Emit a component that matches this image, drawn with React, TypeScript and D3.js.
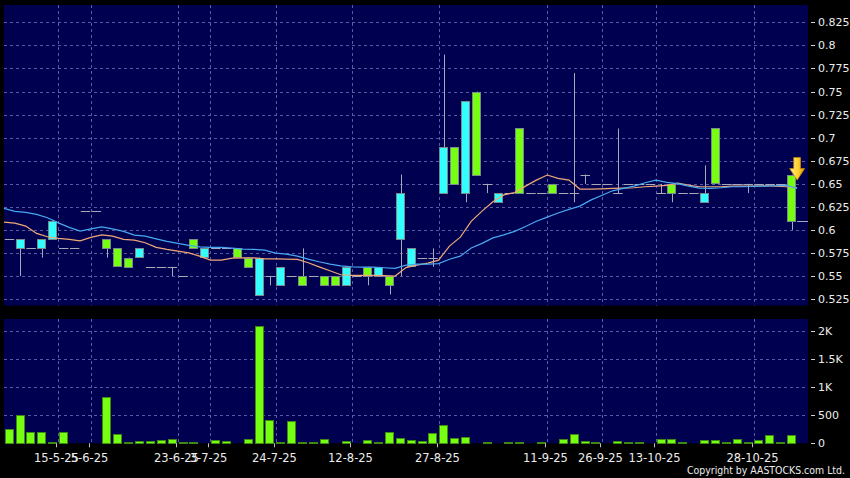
import React, { useEffect, useRef } from 'react';
import * as d3 from 'd3';

// daily candles, one per traded day (slot 73 is the empty right margin)
const open = [0.59, 0.58, 0.58, 0.58, 0.59, 0.58, 0.58, 0.62, 0.62, 0.59, 0.58, 0.57, 0.57, 0.56, 0.56, 0.56, 0.55, 0.59, 0.57, 0.58,
  0.58, 0.58, 0.57, 0.53, 0.55, 0.54, 0.55, 0.55, 0.55, 0.55, 0.55, 0.54, 0.55, 0.56, 0.55, 0.55, 0.59, 0.56, 0.57, 0.57,
  0.64, 0.69, 0.64, 0.75, 0.65, 0.63, 0.64, 0.71, 0.64, 0.64, 0.65, 0.64, 0.64, 0.66, 0.65, 0.65, 0.64, 0.65, 0.65, 0.65,
  0.64, 0.65, 0.64, 0.64, 0.63, 0.71, 0.65, 0.65, 0.65, 0.65, 0.65, 0.65, 0.66];
const high = [0.59, 0.59, 0.58, 0.59, 0.61, 0.58, 0.58, 0.62, 0.62, 0.59, 0.58, 0.57, 0.58, 0.56, 0.56, 0.56, 0.55, 0.59, 0.58, 0.58,
  0.58, 0.58, 0.57, 0.57, 0.55, 0.56, 0.55, 0.58, 0.55, 0.55, 0.55, 0.56, 0.55, 0.56, 0.56, 0.55, 0.66, 0.58, 0.57, 0.58,
  0.79, 0.69, 0.74, 0.75, 0.65, 0.64, 0.64, 0.71, 0.64, 0.64, 0.65, 0.64, 0.77, 0.66, 0.65, 0.65, 0.71, 0.65, 0.65, 0.65,
  0.65, 0.65, 0.64, 0.64, 0.67, 0.71, 0.65, 0.65, 0.65, 0.65, 0.65, 0.65, 0.66];
const low = [0.59, 0.55, 0.58, 0.57, 0.59, 0.58, 0.58, 0.62, 0.62, 0.57, 0.56, 0.56, 0.57, 0.56, 0.56, 0.55, 0.55, 0.58, 0.57, 0.58,
  0.58, 0.57, 0.56, 0.53, 0.54, 0.54, 0.55, 0.54, 0.55, 0.54, 0.54, 0.54, 0.55, 0.54, 0.55, 0.53, 0.55, 0.56, 0.57, 0.56,
  0.64, 0.65, 0.63, 0.66, 0.64, 0.63, 0.64, 0.64, 0.64, 0.64, 0.64, 0.64, 0.63, 0.65, 0.65, 0.65, 0.64, 0.65, 0.65, 0.65,
  0.64, 0.63, 0.64, 0.64, 0.63, 0.65, 0.65, 0.65, 0.64, 0.65, 0.65, 0.65, 0.60];
const close = [0.59, 0.59, 0.58, 0.59, 0.61, 0.58, 0.58, 0.62, 0.62, 0.58, 0.56, 0.56, 0.58, 0.56, 0.56, 0.56, 0.55, 0.58, 0.58, 0.58,
  0.58, 0.57, 0.56, 0.57, 0.55, 0.56, 0.55, 0.54, 0.55, 0.54, 0.54, 0.56, 0.55, 0.55, 0.56, 0.54, 0.64, 0.58, 0.57, 0.57,
  0.69, 0.65, 0.74, 0.66, 0.65, 0.64, 0.64, 0.64, 0.64, 0.64, 0.64, 0.64, 0.64, 0.66, 0.65, 0.65, 0.64, 0.65, 0.65, 0.65,
  0.64, 0.64, 0.64, 0.64, 0.64, 0.65, 0.65, 0.65, 0.65, 0.65, 0.65, 0.65, 0.61];
const volume = [250, 510, 195, 200, 15, 200, 4, 4, 4, 820, 160, 25, 40, 40, 60, 70, 25, 18, 4, 65,
  40, 4, 75, 2100, 410, 25, 400, 18, 18, 75, 4, 45, 4, 60, 25, 195, 90, 60, 40, 185,
  320, 95, 120, 12, 24, 4, 18, 18, 4, 18, 12, 70, 170, 36, 24, 4, 36, 24, 24, 4,
  70, 77, 18, 4, 60, 60, 24, 70, 24, 60, 150, 24, 145];

// moving averages, read at each slot boundary (74 points)
const maShort = [0.6085, 0.6074, 0.6042, 0.5962, 0.5926, 0.5908, 0.5897, 0.5882, 0.5919, 0.5947, 0.5933, 0.5897, 0.589, 0.5861, 0.5811,
  0.5789, 0.5771, 0.5752, 0.5716, 0.5673, 0.5673, 0.5695, 0.5698, 0.5698, 0.5687, 0.5687, 0.5684, 0.5681, 0.5644, 0.56,
  0.5557, 0.5514, 0.5507, 0.5507, 0.5507, 0.5505, 0.55, 0.5592, 0.5619, 0.5641, 0.5673, 0.5825, 0.5922, 0.6093, 0.6204,
  0.6305, 0.638, 0.6405, 0.6475, 0.654, 0.6595, 0.6559, 0.654, 0.6443, 0.6443, 0.6446, 0.645, 0.6454, 0.6457, 0.6468,
  0.6475, 0.6483, 0.6508, 0.6486, 0.6468, 0.6468, 0.6468, 0.6475, 0.6475, 0.6475, 0.6479, 0.6475, 0.6468, 0.6457];
const maLong = [0.6234, 0.6201, 0.619, 0.6168, 0.6132, 0.6077, 0.6028, 0.5987, 0.6012, 0.6034, 0.6012, 0.5984, 0.5944, 0.5933, 0.5904,
  0.5876, 0.5854, 0.5832, 0.5817, 0.5811, 0.5811, 0.5803, 0.5792, 0.5789, 0.5781, 0.5749, 0.5738, 0.5716, 0.5684, 0.5655,
  0.563, 0.5611, 0.56, 0.5597, 0.5597, 0.559, 0.5583, 0.5619, 0.563, 0.563, 0.5635, 0.5682, 0.5716, 0.5805, 0.5854,
  0.5914, 0.5947, 0.5984, 0.6038, 0.6094, 0.6139, 0.6183, 0.6223, 0.6258, 0.6323, 0.6374, 0.6424, 0.645, 0.6475, 0.6511,
  0.654, 0.6515, 0.6502, 0.6475, 0.6454, 0.645, 0.6457, 0.6468, 0.6468, 0.6472, 0.6475, 0.6479, 0.6483, 0.645];

const tickSlots = [5, 8, 16, 19, 25, 32, 40, 50, 55, 60, 69];
const tickLabels = ['15-5-25', '5-6-25', '23-6-25', '3-7-25', '24-7-25', '12-8-25', '27-8-25', '11-9-25', '26-9-25', '13-10-25', '28-10-25'];
const priceTicks = [0.525, 0.55, 0.575, 0.6, 0.625, 0.65, 0.675, 0.7, 0.725, 0.75, 0.775, 0.8, 0.825];
const volumeTicks = [0, 500, 1000, 1500, 2000];
const volumeLabels = ['0', '500', '1K', '1.5K', '2K'];

const UP = '#33ffff';
const DOWN = '#77ff11';
const PANEL = '#000050';
const GRID = '#5a5aa0';
const WICK = '#a8a8b8';
const FONT = 'DejaVu Sans, sans-serif';

const App = () => {
  const ref = useRef<SVGSVGElement | null>(null);

  useEffect(() => {
    const W = 850, H = 478;
    const left = 4, right = 808;
    const pTop = 5, pBottom = 305.5;
    const vTop = 319, vBottom = 443.3;

    const svg = d3.select(ref.current);
    svg.selectAll('*').remove();

    svg.append('rect').attr('width', W).attr('height', H).attr('fill', '#000');

    const slots = d3.range(open.length + 1);
    const x = d3.scaleBand<number>().domain(slots).range([left, right]).paddingInner(0.13).paddingOuter(0.065);
    const step = x.step();
    const xs = (i: number) => left + i * step; // slot boundary
    const xc = (i: number) => x(i)! + x.bandwidth() / 2;

    const y = d3.scaleLinear().domain([0.5181, 0.8438]).range([pBottom, pTop]);
    const yv = d3.scaleLinear().domain([0, 2220]).range([vBottom, vTop]);

    // panels
    svg.append('rect').attr('x', left).attr('y', pTop).attr('width', right - left).attr('height', pBottom - pTop).attr('fill', PANEL);
    svg.append('rect').attr('x', left).attr('y', vTop).attr('width', right - left).attr('height', vBottom - vTop).attr('fill', PANEL);

    const grid = svg.append('g').attr('stroke', GRID).attr('stroke-width', 1).attr('stroke-dasharray', '3,3');
    grid.selectAll('.hp').data(priceTicks).join('line')
      .attr('x1', left).attr('x2', right)
      .attr('y1', d => Math.round(y(d)) + 0.5).attr('y2', d => Math.round(y(d)) + 0.5);
    grid.selectAll('.hv').data(volumeTicks.slice(1)).join('line')
      .attr('x1', left).attr('x2', right)
      .attr('y1', d => Math.round(yv(d)) + 0.5).attr('y2', d => Math.round(yv(d)) + 0.5);
    tickSlots.forEach(s => {
      const gx = Math.round(xs(s)) + 0.5;
      grid.append('line').attr('x1', gx).attr('x2', gx).attr('y1', pTop).attr('y2', pBottom);
      grid.append('line').attr('x1', gx).attr('x2', gx).attr('y1', vTop).attr('y2', vBottom);
    });

    // candles
    const candles = svg.append('g');
    open.forEach((o, i) => {
      const c = close[i];
      const cx = Math.round(xc(i)) + 0.5;
      if (high[i] !== low[i]) {
        candles.append('line').attr('x1', cx).attr('x2', cx)
          .attr('y1', y(high[i])).attr('y2', y(low[i])).attr('stroke', WICK).attr('stroke-width', 1);
      }
      if (o === c) {
        const yy = Math.round(y(c)) + 0.5;
        candles.append('line').attr('x1', x(i)!).attr('x2', x(i)! + x.bandwidth())
          .attr('y1', yy).attr('y2', yy).attr('stroke', WICK).attr('stroke-width', 1);
      } else {
        const top = y(Math.max(o, c)), bot = y(Math.min(o, c));
        candles.append('rect')
          .attr('x', Math.round(x(i)!) + 0.5).attr('y', Math.round(top) + 0.5)
          .attr('width', Math.round(x.bandwidth()) - 1).attr('height', Math.round(bot - top))
          .attr('fill', c > o ? UP : DOWN).attr('stroke', '#7a8a8a').attr('stroke-width', 1);
      }
    });
    // last close extension
    const lastY = Math.round(y(close[close.length - 1])) + 0.5;
    candles.append('line').attr('x1', xs(open.length)).attr('x2', right)
      .attr('y1', lastY).attr('y2', lastY).attr('stroke', WICK);

    // moving averages
    const line = d3.line<number>().x((_, i) => xs(i)).y(d => y(d));
    svg.append('path').datum(maShort).attr('d', line).attr('fill', 'none').attr('stroke', '#f0a878').attr('stroke-width', 1.2);
    svg.append('path').datum(maLong).attr('d', line).attr('fill', 'none').attr('stroke', '#48a8f0').attr('stroke-width', 1.2);

    // arrow marker on latest candle
    const defs = svg.append('defs');
    const grad = defs.append('linearGradient').attr('id', 'arrowGrad').attr('x1', 0).attr('x2', 1).attr('y1', 0).attr('y2', 0);
    grad.append('stop').attr('offset', '0%').attr('stop-color', '#fff4a0');
    grad.append('stop').attr('offset', '55%').attr('stop-color', '#ffd030');
    grad.append('stop').attr('offset', '100%').attr('stop-color', '#e89a00');
    const ax = xs(open.length);
    const tip = y(high[high.length - 1]) + 5.5;
    const arrow = d3.path();
    arrow.moveTo(ax - 3.4, tip - 22.5);
    arrow.lineTo(ax + 3.4, tip - 22.5);
    arrow.lineTo(ax + 3.4, tip - 11.5);
    arrow.lineTo(ax + 7.5, tip - 11.5);
    arrow.lineTo(ax, tip);
    arrow.lineTo(ax - 7.5, tip - 11.5);
    arrow.lineTo(ax - 3.4, tip - 11.5);
    arrow.closePath();
    svg.append('path').attr('d', arrow.toString()).attr('fill', 'url(#arrowGrad)').attr('stroke', '#c88400').attr('stroke-width', 0.8);

    // volume bars
    svg.append('g').selectAll('rect').data(volume).join('rect')
      .attr('x', (_, i) => Math.round(x(i)!) + 0.5)
      .attr('y', d => Math.round(yv(d)) + 0.5)
      .attr('width', Math.round(x.bandwidth()) - 1)
      .attr('height', d => Math.max(0, Math.round(vBottom) - Math.round(yv(d))))
      .attr('fill', DOWN).attr('stroke', '#3c8a10').attr('stroke-width', 1);

    // right axes
    const axisText = svg.append('g').attr('fill', '#ececec').attr('font-family', FONT).attr('font-size', 11);
    priceTicks.forEach(t => {
      const ty = Math.round(y(t)) + 0.5;
      svg.append('line').attr('x1', 811).attr('x2', 815).attr('y1', ty).attr('y2', ty).attr('stroke', '#d0d0d0');
      axisText.append('text').attr('x', 818).attr('y', ty).attr('dy', '0.36em').text(String(t));
    });
    volumeTicks.forEach((t, i) => {
      const ty = Math.round(yv(t)) + 0.5;
      svg.append('line').attr('x1', 811).attr('x2', 815).attr('y1', ty).attr('y2', ty).attr('stroke', '#d0d0d0');
      axisText.append('text').attr('x', 818).attr('y', ty).attr('dy', '0.36em').text(volumeLabels[i]);
    });

    // date axis (labels crowd each other in the original too)
    tickSlots.forEach((s, i) => {
      const tx = Math.round(xs(s)) - 1.5;
      svg.append('line').attr('x1', tx).attr('x2', tx).attr('y1', vBottom).attr('y2', vBottom + 4).attr('stroke', '#c0c0c0');
      axisText.append('text').attr('x', tx).attr('y', 462).attr('text-anchor', 'middle').attr('font-size', 11.5).text(tickLabels[i]);
    });

    axisText.append('text').attr('x', 845).attr('y', 473.5).attr('text-anchor', 'end').attr('font-size', 10)
      .attr('textLength', 158).attr('lengthAdjust', 'spacingAndGlyphs')
      .text('Copyright by AASTOCKS.com Ltd.');
  }, []);

  return (
    <svg ref={ref} width={850} height={478} style={{ position: 'absolute', left: 0, top: 0, display: 'block' }} />
  );
};

export default App;
